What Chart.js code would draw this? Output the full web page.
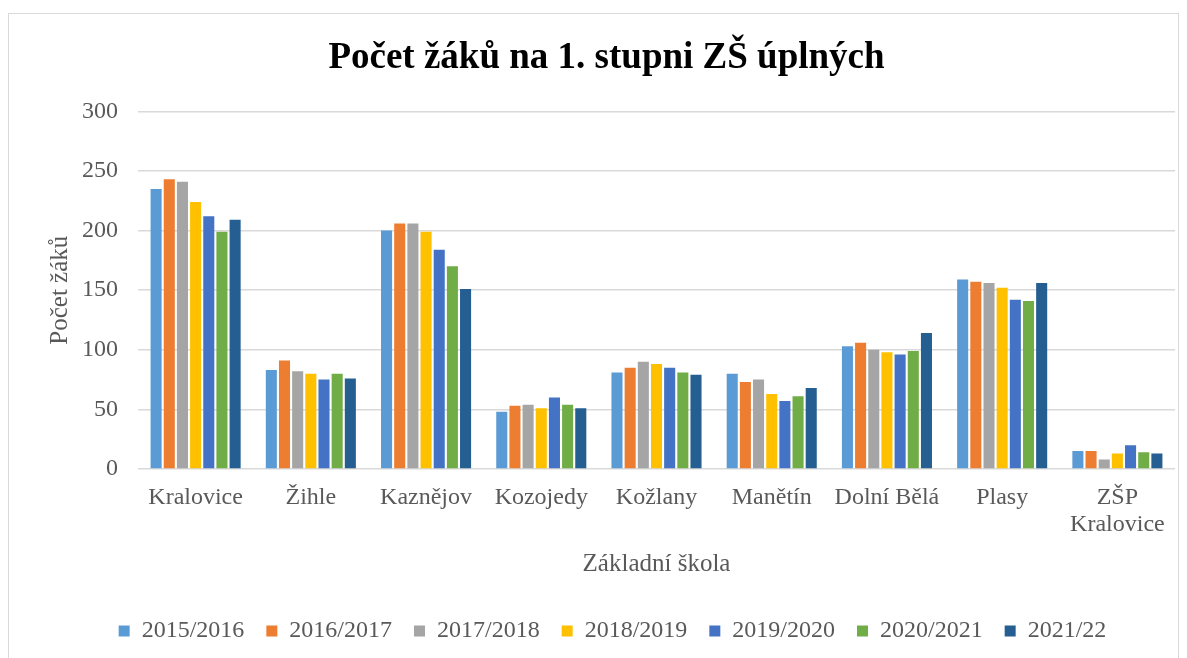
<!DOCTYPE html>
<html>
<head>
<meta charset="utf-8">
<script src="https://cdn.jsdelivr.net/npm/chart.js@4.4.1/dist/chart.umd.min.js"></script>
<style>
  html, body { margin: 0; padding: 0; background: #fff; }
  #wrap { position: relative; width: 1187px; height: 658px; overflow: hidden; }
  #frame { position: absolute; left: 8px; top: 13px; width: 1171px; height: 700px; border: 1px solid #d9d9d9; box-sizing: border-box; }
  canvas { position: absolute; left: 0; top: 0; }
</style>
</head>
<body>
<div id="wrap">
  <div id="frame"></div>
  <canvas id="chart" width="1187" height="658"></canvas>
</div>
<script>
const schools = ['Kralovice', 'Žihle', 'Kaznějov', 'Kozojedy', 'Kožlany', 'Manětín', 'Dolní Bělá', 'Plasy', ['ZŠP', 'Kralovice']]
const years = ['2015/2016', '2016/2017', '2017/2018', '2018/2019', '2019/2020', '2020/2021', '2021/22']

const y2015 = [235, 83, 200, 48, 81, 80, 103, 159, 15]
const y2016 = [243, 91, 206, 53, 85, 73, 106, 157, 15]
const y2017 = [241, 82, 206, 54, 90, 75, 100, 156, 8]
const y2018 = [224, 80, 199, 51, 88, 63, 98, 152, 13]
const y2019 = [212, 75, 184, 60, 85, 57, 96, 142, 20]
const y2020 = [199, 80, 170, 54, 81, 61, 99, 141, 14]
const y2021 = [209, 76, 151, 51, 79, 68, 114, 156, 13]

const yTicks = [0, 50, 100, 150, 200, 250, 300]

const colors = ['#5B9BD5', '#ED7D31', '#A5A5A5', '#FFC000', '#4472C4', '#70AD47', '#255E91']
const series = [y2015, y2016, y2017, y2018, y2019, y2020, y2021]

const serif = "'Liberation Serif', 'Times New Roman', serif"
const textGray = '#595959'

// nudge the legend and title a bit right, like in the original
const boxShift = {
  id: 'boxShift',
  afterLayout(chart) {
    if (chart.legend) {
      chart.legend.left += 15
      chart.legend.right += 15
    }
    if (chart.titleBlock) {
      chart.titleBlock.left += 9
      chart.titleBlock.right += 9
    }
  }
}

const ctx = document.getElementById('chart').getContext('2d')

new Chart(ctx, {
  type: 'bar',
  data: {
    labels: schools,
    datasets: series.map((values, i) => ({
      label: years[i],
      data: values,
      backgroundColor: colors[i],
      borderWidth: 0,
      categoryPercentage: 0.8,
      barPercentage: 0.84,
    })),
  },
  plugins: [boxShift],
  options: {
    responsive: false,
    animation: false,
    layout: {
      padding: { left: 20, right: 12, top: 22, bottom: 5 }
    },
    plugins: {
      title: {
        display: true,
        text: 'Počet žáků na 1. stupni ZŠ úplných',
        color: '#000',
        font: { family: serif, size: 37, weight: 'bold' },
        padding: { top: 14, bottom: 31 }
      },
      legend: {
        position: 'bottom',
        labels: {
          color: textGray,
          font: { family: serif, size: 24 },
          boxWidth: 11,
          boxHeight: 11,
          padding: 22
        }
      },
      tooltip: { enabled: false }
    },
    scales: {
      x: {
        grid: { display: false, drawTicks: false },
        border: { display: false },
        ticks: {
          color: textGray,
          font: { family: serif, size: 24, lineHeight: 1.1 },
          padding: 16,
          maxRotation: 0,
          autoSkip: false
        },
        title: {
          display: true,
          text: 'Základní škola',
          color: textGray,
          font: { family: serif, size: 25 },
          padding: { top: 0, bottom: 18 }
        },
        afterFit: (scale) => { scale.height = 128 }
      },
      y: {
        min: 0,
        max: 300,
        afterBuildTicks: (scale) => { scale.ticks = yTicks.map(v => ({ value: v })) },
        grid: { color: '#d9d9d9', lineWidth: 1.5, drawTicks: false },
        border: { display: false },
        ticks: {
          color: textGray,
          font: { family: serif, size: 24 },
          padding: 20
        },
        title: {
          display: true,
          text: 'Počet žáků',
          color: textGray,
          font: { family: serif, size: 25 },
          padding: { top: 25, bottom: 0 }
        },
        afterFit: (scale) => { scale.width = 118 }
      }
    }
  }
})
</script>
</body>
</html>
